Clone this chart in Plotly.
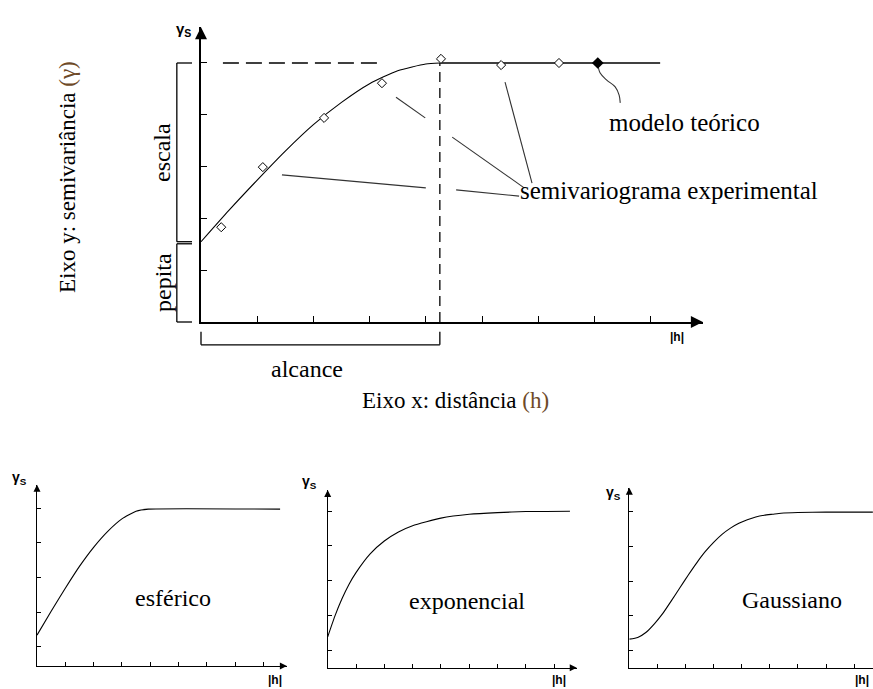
import plotly.graph_objects as go

W, H = 873, 689

# ---------------- data ----------------
# main panel: experimental semivariogram points
exp_h = [0.36, 1.10, 2.19, 3.22, 4.27, 5.34, 6.37]
exp_g = [1.83, 2.99, 3.94, 4.61, 5.08, 4.96, 5.00]
# main panel: fitted (spherical) model up to the range
model_h = [0.0, 0.5, 1.0, 1.5, 2.0, 2.5, 3.0, 3.5, 4.0, 4.25]
model_g = [1.55, 2.16, 2.74, 3.30, 3.81, 4.24, 4.60, 4.85, 4.98, 5.00]
sill_main = 5.0
nugget_main = 1.55
range_main = 4.25
plateau_end = 8.17
model_pt_h = [7.06]
model_pt_g = [5.00]
sill_dash_h = [0.39, 3.18]

# leader lines (from labels to curve / points), in main-panel units
lead_x = [3.47, 3.99, None, 4.47, 5.75, None, 1.44, 4.00, None, 4.54, 5.66, None, 5.41, 5.89]
lead_y = [4.34, 3.94, None, 3.57, 2.59, None, 2.84, 2.59, None, 2.55, 2.43, None, 4.63, 2.68]
curl_x = [7.06, 7.10, 7.22, 7.37, 7.44, 7.46]
curl_y = [5.00, 4.81, 4.67, 4.54, 4.38, 4.23]

# small panels
sph_h = [0, 0.5, 1, 1.5, 2, 2.5, 3, 3.5, 3.93, 8.59]
sph_g = [0.89, 1.58, 2.24, 2.87, 3.42, 3.88, 4.24, 4.46, 4.52, 4.52]
expo_h = [0, 0.25, 0.5, 0.75, 1, 1.5, 2, 2.5, 3, 4, 5, 6, 7, 8.56]
expo_g = [0.89, 1.48, 1.98, 2.40, 2.74, 3.28, 3.65, 3.91, 4.09, 4.31, 4.42, 4.47, 4.50, 4.51]
gau_h = [0, 0.3, 0.6, 0.9, 1.2, 1.5, 1.8, 2.1, 2.4, 2.7, 3.0, 3.3, 3.6, 3.9, 4.2, 4.5,
         4.8, 5.1, 5.4, 6, 7, 8.67]
gau_g = [0.84, 0.89, 1.04, 1.29, 1.59, 1.95, 2.32, 2.69, 3.04, 3.36, 3.63, 3.86, 4.04,
         4.18, 4.28, 4.36, 4.41, 4.44, 4.47, 4.49, 4.50, 4.50]

panel_names = ["esférico", "exponencial", "Gaussiano"]

# ---------------- layout helpers ----------------
SERIF = "Liberation Serif"
SANS = "Liberation Sans"


def P(x, y):
    return x / W, 1 - y / H


# panel geometry: origin px, px per unit, axis extents (units)
panels = [
    # n, x0, y0, ux, uy, xmax, ymax, linew, ticklen, ytick0
    (1, 201.0, 322.0, 56.2, 51.8, 8.93, 5.69, 1.5, 6, 0.0),
    (2, 37.0, 666.0, 28.3, 34.7, 8.83, 5.22, 1.0, 4, 0.55),
    (3, 327.7, 667.7, 28.3, 34.7, 8.80, 5.12, 1.0, 4, 0.51),
    (4, 629.3, 668.3, 28.1, 34.7, 8.67, 5.20, 1.0, 4, 0.51),
]

fig = go.Figure()
layout_axes = {}
for n, x0, y0, ux, uy, xmax, ymax, lw, tl, yt0 in panels:
    sfx = "" if n == 1 else str(n)
    dx = [x0 / W, min(1.0, (x0 + xmax * ux) / W)]
    dy = [1 - y0 / H, 1 - (y0 - ymax * uy) / H]
    common = dict(showgrid=False, zeroline=False, showticklabels=False, showline=True,
                  linecolor="black", linewidth=lw, ticks="inside", ticklen=tl,
                  tickwidth=1, tickcolor="black", tickmode="linear", dtick=1,
                  fixedrange=True)
    layout_axes["xaxis" + sfx] = dict(common, domain=dx, range=[0, xmax], tick0=0,
                                      anchor="y" + sfx)
    layout_axes["yaxis" + sfx] = dict(common, domain=dy, range=[0, ymax], tick0=yt0,
                                      anchor="x" + sfx)

# ---------------- main panel traces ----------------
fig.add_trace(go.Scatter(x=model_h, y=model_g, mode="lines",
                         line=dict(color="black", width=1.1, shape="spline", smoothing=0.6),
                         xaxis="x", yaxis="y"))
fig.add_trace(go.Scatter(x=[range_main, plateau_end], y=[sill_main, sill_main], mode="lines",
                         line=dict(color="black", width=1.5), xaxis="x", yaxis="y"))
fig.add_trace(go.Scatter(x=sill_dash_h, y=[sill_main, sill_main], mode="lines",
                         line=dict(color="black", width=1.3, dash="16px,7px"), xaxis="x", yaxis="y"))
fig.add_trace(go.Scatter(x=[range_main, range_main], y=[0, sill_main], mode="lines",
                         line=dict(color="black", width=1.3, dash="10px,6px"), xaxis="x", yaxis="y"))
fig.add_trace(go.Scatter(x=lead_x, y=lead_y, mode="lines", line=dict(color="#333333", width=1.1),
                         xaxis="x", yaxis="y"))
fig.add_trace(go.Scatter(x=curl_x, y=curl_y, mode="lines",
                         line=dict(color="#333333", width=1.1, shape="spline", smoothing=1.0),
                         xaxis="x", yaxis="y"))
fig.add_trace(go.Scatter(x=exp_h, y=exp_g, mode="markers",
                         marker=dict(symbol="diamond", size=7, color="white",
                                     line=dict(color="black", width=1)),
                         xaxis="x", yaxis="y", cliponaxis=False))
fig.add_trace(go.Scatter(x=model_pt_h, y=model_pt_g, mode="markers",
                         marker=dict(symbol="diamond", size=9, color="black"),
                         xaxis="x", yaxis="y", cliponaxis=False))

# ---------------- small panels ----------------
for (hh, gg), n in zip([(sph_h, sph_g), (expo_h, expo_g), (gau_h, gau_g)], [2, 3, 4]):
    fig.add_trace(go.Scatter(x=hh, y=gg, mode="lines",
                             line=dict(color="black", width=1.1, shape="spline", smoothing=0.5),
                             xaxis="x%d" % n, yaxis="y%d" % n))

# axis arrowheads
for n, x0, y0, ux, uy, xmax, ymax, lw, tl, yt0 in panels:
    sfx = "" if n == 1 else str(n)
    s = 12 if n == 1 else 7
    fig.add_trace(go.Scatter(x=[0], y=[ymax], mode="markers",
                             marker=dict(symbol="arrow-up", size=s, color="black"),
                             xaxis="x" + sfx, yaxis="y" + sfx, cliponaxis=False))
    if n != 4:
        fig.add_trace(go.Scatter(x=[xmax], y=[0], mode="markers",
                                 marker=dict(symbol="arrow-right", size=s, color="black"),
                                 xaxis="x" + sfx, yaxis="y" + sfx, cliponaxis=False))


# ---------------- text ----------------
def ann(text, x, y, size=24, angle=0, xanchor="center", yanchor="middle", family=SERIF):
    X, Y = P(x, y)
    return dict(text=text, x=X, y=Y, xref="paper", yref="paper", showarrow=False,
                xanchor=xanchor, yanchor=yanchor, textangle=angle,
                font=dict(family=family, size=size, color="black"))


brown = "#6e4a28"
annotations = [
    ann("Eixo y: semivariância <span style='color:%s'>(γ)</span>" % brown, 67, 177, size=23, angle=-90),
    ann("escala", 162, 153, size=24, angle=-90),
    ann("pepita", 163, 283, size=24, angle=-90),
    ann("alcance", 307, 369, size=24),
    ann("Eixo x: distância <span style='color:%s'>(h)</span>" % brown, 455, 400, size=23),
    ann("modelo teórico", 607, 123, size=25, xanchor="left"),
    ann("semivariograma experimental", 518, 190, size=25, xanchor="left"),
    ann(panel_names[0], 173, 598, size=24),
    ann(panel_names[1], 467, 601, size=24),
    ann(panel_names[2], 792, 600, size=24),
    # axis symbols
    ann("<b>γ<sub>S</sub></b>", 193, 30, size=15, xanchor="right", family=SANS),
    ann("<b>γ<sub>S</sub></b>", 29, 478, size=14, xanchor="right", family=SANS),
    ann("<b>γ<sub>S</sub></b>", 319, 482, size=14, xanchor="right", family=SANS),
    ann("<b>γ<sub>S</sub></b>", 623, 493, size=14, xanchor="right", family=SANS),
    ann("<b>|h|</b>", 677, 337, size=12, family=SANS),
    ann("<b>|h|</b>", 275, 680, size=12, family=SANS),
    ann("<b>|h|</b>", 559, 680, size=12, family=SANS),
    ann("<b>|h|</b>", 862, 680, size=12, family=SANS),
]

# ---------------- brackets (escala / pepita / alcance) ----------------
m_x0, m_y0, m_ux, m_uy = 201.0, 322.0, 56.2, 51.8


def mp(h, g):
    """main-panel units -> paper"""
    return P(m_x0 + h * m_ux, m_y0 - g * m_uy)


br_in, br_out = -0.16, -0.43     # bracket x positions (main units)
alc_top, alc_bot = -0.19, -0.44  # alcance bracket y positions (main units)
shapes = []


def seg(a, b):
    (x0, y0), (x1, y1) = a, b
    shapes.append(dict(type="line", xref="paper", yref="paper", x0=x0, y0=y0, x1=x1, y1=y1,
                       line=dict(color="black", width=1.3)))


# escala: from nugget to sill
seg(mp(br_out, sill_main), mp(br_in, sill_main))
seg(mp(br_out, sill_main), mp(br_out, nugget_main))
seg(mp(br_out, nugget_main), mp(br_in, nugget_main))
# pepita: from 0 to nugget
seg(mp(br_out, nugget_main - 0.04), mp(br_in, nugget_main - 0.04))
seg(mp(br_out, nugget_main - 0.04), mp(br_out, 0))
seg(mp(br_out, 0), mp(br_in, 0))
# alcance: from 0 to range
seg(mp(0, alc_top), mp(0, alc_bot))
seg(mp(0, alc_bot), mp(range_main, alc_bot))
seg(mp(range_main, alc_bot), mp(range_main, alc_top))

fig.update_layout(
    width=W, height=H, margin=dict(l=0, r=0, t=0, b=0),
    paper_bgcolor="white", plot_bgcolor="white", showlegend=False,
    annotations=annotations, shapes=shapes, **layout_axes,
)

fig.write_html("out.html")
